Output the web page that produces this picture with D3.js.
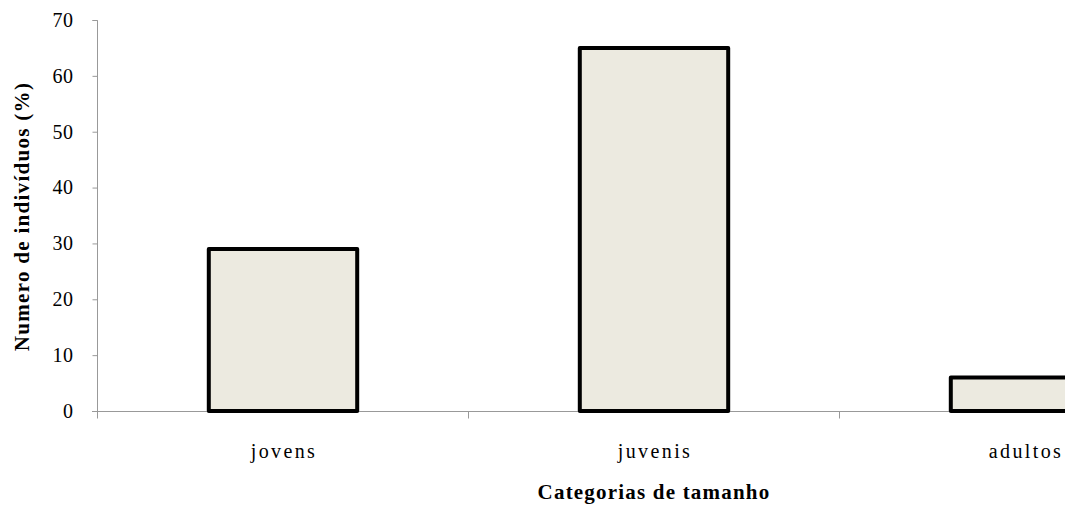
<!DOCTYPE html>
<html>
<head>
<meta charset="utf-8">
<script src="https://cdn.jsdelivr.net/npm/d3@7"></script>
<style>
  body { margin: 0; background: #fff; }
  svg { display: block; }
</style>
</head>
<body>
<div id="vis"></div>
<script>
// Datos
const CATEGORIAS = ["jovens", "juvenis", "adultos"];
const VALORES = [29, 65, 6];
const TICKS_Y = [0, 10, 20, 30, 40, 50, 60, 70];

const WIDTH = 1065;
const HEIGHT = 506;

const SVG = d3.select("#vis").append("svg")
    .attr("width", WIDTH).attr("height", HEIGHT);

// El area del grafico sigue mas alla del borde derecho (adultos queda cortado)
const x = d3.scaleBand()
    .domain(CATEGORIAS)
    .range([97.5, 97.5 + 3 * 371])
    .paddingInner(0.6)
    .paddingOuter(0.3);

const y = d3.scaleLinear()
    .domain([0, 70])
    .range([411, 20]);

const FONT = "Liberation Serif";

// Eje Y
const ejeY = SVG.append("g")
    .attr("transform", "translate(97.5, 0)")
    .call(d3.axisLeft(y).tickValues(TICKS_Y).tickSize(5).tickPadding(19));
ejeY.select(".domain").attr("stroke", "#999").attr("d", `M-5,${y(70) + 0.5}H0V${y(0) + 0.5}`);
ejeY.selectAll(".tick line").attr("stroke", "#999");
ejeY.selectAll(".tick text")
    .style("font-family", FONT).style("font-size", "20px")
    .attr("letter-spacing", 0.5).attr("fill", "#000");

// Eje X
const bordes = CATEGORIAS.map((d, i) => 97.5 + i * 371);
const ejeX = SVG.append("g").attr("transform", `translate(0, ${y(0) + 0.5})`);
ejeX.append("line")
    .attr("x1", 92).attr("x2", WIDTH).attr("stroke", "#999");
ejeX.selectAll("line.tick").data(bordes).join("line")
    .attr("class", "tick")
    .attr("x1", d => d).attr("x2", d => d)
    .attr("y1", 0).attr("y2", 7).attr("stroke", "#999");
ejeX.selectAll("text").data(CATEGORIAS).join("text")
    .attr("x", d => x(d) + x.bandwidth() / 2 + 1)
    .attr("y", 46)
    .attr("text-anchor", "middle")
    .style("font-family", FONT).style("font-size", "20px")
    .attr("letter-spacing", 2.4)
    .text(d => d);

// Barras
SVG.append("g").selectAll("rect").data(VALORES).join("rect")
    .attr("x", (d, i) => x(CATEGORIAS[i]))
    .attr("y", d => y(d))
    .attr("width", x.bandwidth())
    .attr("height", d => y(0) - y(d))
    .attr("fill", "#ECEAE0")
    .attr("stroke", "#000")
    .attr("stroke-width", 4)
    .attr("stroke-linejoin", "round");

// Titulos
SVG.append("text")
    .attr("transform", `translate(29, ${(y(0) + y(70)) / 2 + 1}) rotate(-90)`)
    .attr("text-anchor", "middle")
    .style("font-family", FONT).style("font-size", "21px").style("font-weight", "bold")
    .attr("letter-spacing", 1.3)
    .text("Numero de indivíduos (%)");

SVG.append("text")
    .attr("x", 97.5 + 3 * 371 / 2)
    .attr("y", 499)
    .attr("text-anchor", "middle")
    .style("font-family", FONT).style("font-size", "21px").style("font-weight", "bold")
    .attr("letter-spacing", 1.2)
    .text("Categorias de tamanho");
</script>
</body>
</html>
